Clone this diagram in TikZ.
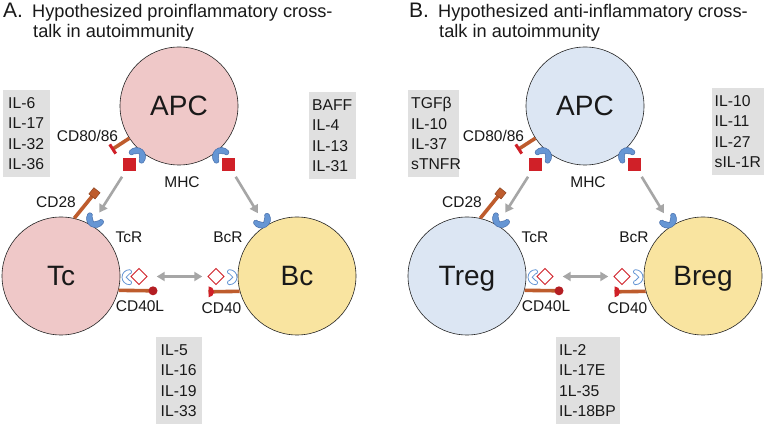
\documentclass[tikz,border=0pt]{standalone}
\usepackage{fontspec}
\setmainfont{Liberation Sans}
\usetikzlibrary{arrows.meta,shapes.geometric,calc}
\definecolor{pinkc}{RGB}{239,200,200}
\definecolor{yellowc}{RGB}{249,228,160}
\definecolor{bluec}{RGB}{220,230,243}
\definecolor{recblue}{RGB}{102,150,212}
\definecolor{recedge}{RGB}{70,110,170}
\definecolor{sqred}{RGB}{208,32,40}
\definecolor{ballred}{RGB}{180,30,35}
\definecolor{stickc}{RGB}{190,92,45}
\definecolor{arrowg}{RGB}{166,166,166}
\definecolor{boxg}{RGB}{224,224,224}
\definecolor{txt}{RGB}{25,25,25}
\tikzset{
  cell/.style={circle, draw=black!85, line width=0.6pt, minimum size=118, inner sep=0,
    font=\fontsize{28}{30}\selectfont, text=txt, text height=20, text depth=0},
  lbl/.style={font=\fontsize{15.5}{18}\selectfont, text=txt, inner sep=0, text height=11.1, text depth=0},
  ttlbig/.style={font=\fontsize{21}{24}\selectfont, text=txt, inner sep=0, anchor=base west},
  ttl/.style={font=\fontsize{18.2}{21}\selectfont, text=txt, inner sep=0, anchor=base west},
  cytbox/.style={fill=boxg, anchor=north west, align=left, inner ysep=0, minimum height=87,
    font=\fontsize{15.7}{20.3}\selectfont, text=txt},
  sqrnode/.style={fill=sqred, minimum size=13, inner sep=0},
  dia/.style={diamond, draw=sqred, fill=white, line width=0.9pt, minimum size=16.5, inner sep=0},
  garrow/.style={draw=arrowg, line width=2.6pt, -{Triangle[length=8,width=9]}},
  dblarrow/.style={draw=arrowg, line width=2.6pt, {Triangle[length=8,width=9]}-{Triangle[length=8,width=9]}},
  stick/.style={draw=stickc, line width=3.6pt},
  rbar/.style={draw=sqred, line width=3pt},
  capsq/.style={fill=stickc, draw=stickc!75!black, line width=0.5pt, minimum size=8, inner sep=0},
  cupf/.style={fill=recblue, draw=recedge, line width=0.5pt},
  cupo/.style={fill=white, draw=recblue, line width=0.8pt},
  cup/.pic={\path[pic actions] (-9,0) arc[start angle=180,end angle=360,radius=9]
     arc[start angle=0,end angle=180,radius=2.5] -- (0,-4) -- (-4,0)
     arc[start angle=0,end angle=180,radius=2.5] -- cycle;}
}
\newcommand\immpanel[5]{%
\begin{scope}[xshift=#2]
\node[cell, fill=#3] (#1apc) at (179,319) {APC};
\node[cell, fill=#3] (#1t) at (61,149) {#4};
\node[cell, fill=yellowc] (#1b) at (297,149) {#5};
% CD80/86
\coordinate (#1cde) at ($(#1apc)+(213:79)$);
\draw[stick] (#1apc.213) -- (#1cde);
\draw[rbar] ($(#1cde)+(123:5.5)$) -- ($(#1cde)+(303:5.5)$);
% MHC
\pic[cupf, rotate=140] at ($(#1apc)+(230:66)$) {cup};
\pic[cupf, rotate=220] at ($(#1apc)+(310:66)$) {cup};
\node[sqrnode] (#1sql) at ($(#1apc)+(230:77)$) {};
\node[sqrnode] (#1sqr) at ($(#1apc)+(310:77)$) {};
% TcR, BcR
\coordinate (#1tcr) at ($(#1t)+(59:67)$);
\coordinate (#1bcr) at ($(#1b)+(122:67)$);
\pic[cupf, rotate=-31] at (#1tcr) {cup};
\pic[cupf, rotate=32] at (#1bcr) {cup};
\draw[garrow, shorten <=6, shorten >=7] (#1sql) -- (#1tcr);
\draw[garrow, shorten <=6, shorten >=7] (#1sqr) -- (#1bcr);
% CD28
\coordinate (#1cdte) at ($(#1t.77)+(51:32)$);
\draw[stick] (#1t.77) -- (#1cdte);
\node[capsq, rotate=51] (#1cdtcap) at (#1cdte) {};
% interaction
\pic[cupo, rotate=-90, scale=0.83] at ($(#1t)+(-1:68.5)$) {cup};
\pic[cupo, rotate=90, scale=0.83] at ($(#1b)+(181:67.5)$) {cup};
\node[dia] (#1dl) at (139,148.5) {};
\node[dia] (#1dr) at (216,148.5) {};
\draw[dblarrow, shorten <=9, shorten >=5] (#1dl.east) -- (#1dr.west);
% CD40L
\coordinate (#1cdle) at (153,134.2);
\draw[stick] (#1t.-14.5) -- (#1cdle);
\fill[ballred] (#1cdle) circle (4.5);
% CD40
\coordinate (#1cdbe) at (208.5,133.2);
\draw[stick] (#1b.195.5) -- (#1cdbe);
\fill[sqred] ($(#1cdbe)+(0,5.5)$) arc[start angle=90,end angle=-90,radius=5.5] -- cycle;
% labels
\node[lbl] (#1lcd80) at (87.5,289) {CD80/86};
\node[lbl] (#1lmhc) at (182,243) {MHC};
\node[lbl] (#1lcd28) at (56,223.5) {CD28};
\node[lbl] (#1ltcr) at (129,188) {TcR};
\node[lbl] (#1lbcr) at (228,188) {BcR};
\node[lbl] (#1lcd40l) at (140,119) {CD40L};
\node[lbl] (#1lcd40) at (221.5,117.5) {CD40};
\end{scope}}
\begin{document}
\begin{tikzpicture}[x=1pt,y=1pt]
\useasboundingbox (0,0) rectangle (767,425);
\fill[white] (0,0) rectangle (767,425);
\immpanel{a}{0pt}{pinkc}{Tc}{Bc}
\immpanel{b}{406pt}{bluec}{Treg}{Breg}
% titles
\node[ttlbig] (ta0) at (3,407) {A.};
\node[ttl] (ta1) at (32,407.5) {Hypothesized proinflammatory cross-};
\node[ttl] (ta2) at (33,387) {talk in autoimmunity};
\node[ttlbig] (tb0) at (409,407) {B.};
\node[ttl] (tb1) at (438,407.5) {Hypothesized anti-inflammatory cross-};
\node[ttl] (tb2) at (439,387) {talk in autoimmunity};
% cytokine boxes
\node[cytbox, text width=37, inner xsep=5] (abox1) at (3,335) {IL-6\\IL-17\\IL-32\\IL-36};
\node[cytbox, text width=41, inner xsep=3] (abox2) at (309,333) {BAFF\\IL-4\\IL-13\\IL-31};
\node[cytbox, text width=37, inner xsep=4.5] (abox3) at (156,88) {IL-5\\IL-16\\IL-19\\IL-33};
\node[cytbox, text width=45, inner xsep=3] (bbox1) at (408,335) {TGFβ\\IL-10\\IL-37\\sTNFR};
\node[cytbox, text width=47, inner xsep=2.5] (bbox2) at (712,337) {IL-10\\IL-11\\IL-27\\\mbox{sIL-1R}};
\node[cytbox, text width=58, inner xsep=3] (bbox3) at (556,88) {IL-2\\IL-17E\\1L-35\\IL-18BP};
\end{tikzpicture}
\end{document}
